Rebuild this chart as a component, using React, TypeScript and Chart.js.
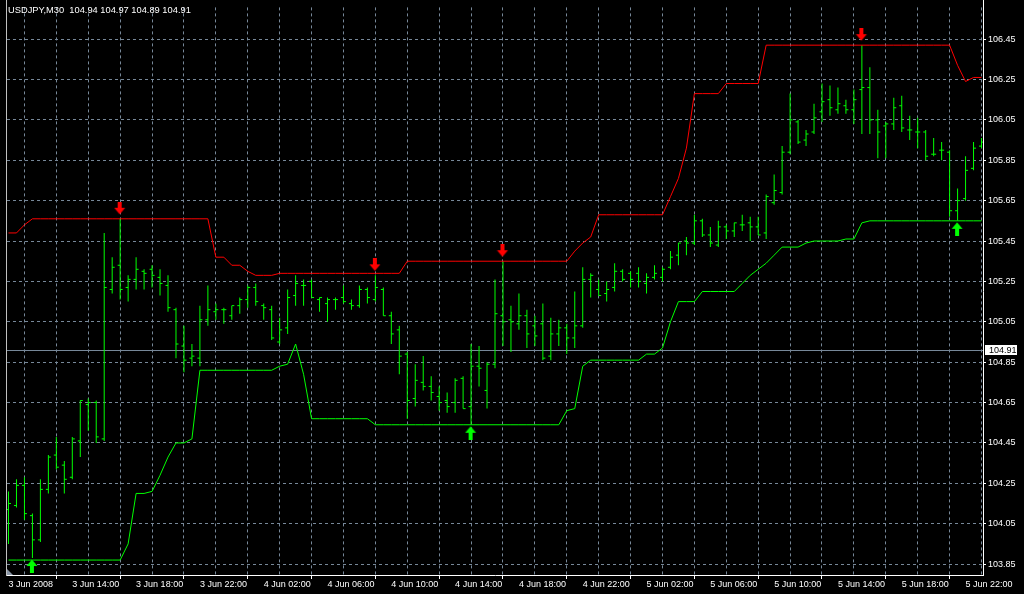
import React, { useEffect, useRef } from 'react';
import { Chart, registerables } from 'chart.js';

Chart.register(...registerables);

const symbolTitle = 'USDJPY,M30  104.94 104.97 104.89 104.91';
const bidPrice = 104.91;

const timeLabels = [
  '3 Jun 2008', '3 Jun 14:00', '3 Jun 18:00', '3 Jun 22:00',
  '4 Jun 02:00', '4 Jun 06:00', '4 Jun 10:00', '4 Jun 14:00',
  '4 Jun 18:00', '4 Jun 22:00', '5 Jun 02:00', '5 Jun 06:00',
  '5 Jun 10:00', '5 Jun 14:00', '5 Jun 18:00', '5 Jun 22:00',
];

const priceTicks = [103.85, 104.05, 104.25, 104.45, 104.65, 104.85, 105.05, 105.25, 105.45, 105.65, 105.85, 106.05, 106.25, 106.45];

const opens = [
  104.12, 104.14, 104.24, 104.09, 103.97, 104.22, 104.39, 104.34, 104.28, 104.46,
  104.64, 104.65, 104.47, 105.21, 105.33, 105.22, 105.26, 105.30, 105.31, 105.27,
  105.23, 105.11, 104.93, 104.87, 104.87, 105.06, 105.10, 105.11, 105.08, 105.13,
  105.16, 105.22, 105.13, 105.11, 104.95, 105.02, 105.18, 105.23, 105.25, 105.16,
  105.14, 105.16, 105.17, 105.14, 105.13, 105.21, 105.16, 105.21, 105.08, 105.01,
  104.89, 104.67, 104.75, 104.73, 104.68, 104.66, 104.65, 104.77, 104.63, 104.83,
  104.71, 104.84, 105.08, 105.06, 105.04, 105.08, 105.03, 105.04, 104.88, 104.99,
  105.02, 104.97, 105.03, 105.26, 105.21, 105.19, 105.22, 105.30, 105.29, 105.29,
  105.24, 105.27, 105.27, 105.32, 105.38, 105.45, 105.44, 105.55, 105.48, 105.43,
  105.52, 105.50, 105.53, 105.54, 105.52, 105.49, 105.64, 105.69, 105.89, 106.04,
  105.95, 105.99, 106.09, 106.15, 106.10, 106.12, 106.10, 106.20, 106.21, 106.05,
  106.02, 106.03, 106.12, 106.00, 105.99, 105.99, 105.88, 105.90, 105.89, 105.60,
  105.66, 105.81, 105.92,
];

const highs = [
  104.21, 104.27, 104.28, 104.10, 104.27, 104.39, 104.48, 104.36, 104.48, 104.66,
  104.67, 104.66, 105.49, 105.37, 105.56, 105.28, 105.37, 105.31, 105.33, 105.31,
  105.28, 105.12, 105.03, 104.94, 105.13, 105.23, 105.14, 105.12, 105.13, 105.17,
  105.23, 105.24, 105.14, 105.13, 105.07, 105.21, 105.28, 105.26, 105.26, 105.17,
  105.17, 105.17, 105.23, 105.16, 105.23, 105.22, 105.28, 105.22, 105.10, 105.03,
  104.90, 104.84, 104.88, 104.78, 104.73, 104.70, 104.77, 104.78, 104.94, 104.93,
  104.85, 105.26, 105.35, 105.13, 105.19, 105.11, 105.08, 105.14, 105.07, 105.06,
  105.04, 105.20, 105.32, 105.29, 105.26, 105.25, 105.34, 105.31, 105.30, 105.32,
  105.29, 105.33, 105.32, 105.40, 105.44, 105.47, 105.58, 105.56, 105.52, 105.55,
  105.53, 105.54, 105.58, 105.57, 105.57, 105.68, 105.78, 105.92, 106.18, 106.05,
  106.00, 106.13, 106.23, 106.22, 106.21, 106.15, 106.20, 106.42, 106.31, 106.10,
  106.04, 106.16, 106.17, 106.07, 106.06, 106.00, 105.96, 105.94, 105.90, 105.71,
  105.87, 105.94, 105.96,
];

const lows = [
  103.95, 104.13, 104.07, 103.88, 103.96, 104.20, 104.32, 104.20, 104.27, 104.38,
  104.51, 104.45, 104.46, 105.19, 105.16, 105.15, 105.21, 105.21, 105.22, 105.18,
  105.10, 104.87, 104.80, 104.83, 104.83, 105.03, 105.06, 105.04, 105.06, 105.09,
  105.12, 105.13, 105.06, 104.96, 104.94, 104.99, 105.13, 105.13, 105.17, 105.10,
  105.05, 105.11, 105.14, 105.11, 105.12, 105.14, 105.15, 105.08, 104.94, 104.79,
  104.57, 104.63, 104.71, 104.66, 104.61, 104.60, 104.60, 104.62, 104.54, 104.73,
  104.62, 104.82, 104.93, 104.90, 105.01, 104.92, 104.93, 104.86, 104.86, 104.93,
  104.89, 104.92, 105.02, 105.17, 105.18, 105.15, 105.20, 105.25, 105.22, 105.22,
  105.19, 105.26, 105.25, 105.31, 105.33, 105.38, 105.43, 105.47, 105.42, 105.42,
  105.46, 105.47, 105.50, 105.45, 105.48, 105.46, 105.63, 105.68, 105.88, 105.93,
  105.92, 105.98, 106.04, 106.07, 106.08, 106.08, 106.03, 105.98, 105.98, 105.86,
  105.86, 106.00, 105.99, 105.95, 105.91, 105.85, 105.87, 105.85, 105.57, 105.55,
  105.65, 105.80, 105.91,
];

const closes = [
  104.15, 104.24, 104.10, 103.97, 104.22, 104.38, 104.33, 104.27, 104.47, 104.66,
  104.65, 104.48, 105.22, 105.32, 105.21, 105.26, 105.31, 105.29, 105.28, 105.24,
  105.12, 104.94, 104.86, 104.88, 105.06, 105.11, 105.11, 105.11, 105.13, 105.16,
  105.22, 105.15, 105.12, 104.97, 105.01, 105.17, 105.24, 105.23, 105.17, 105.17,
  105.16, 105.16, 105.15, 105.13, 105.21, 105.17, 105.22, 105.08, 104.99, 104.88,
  104.66, 104.76, 104.73, 104.70, 104.65, 104.63, 104.76, 104.62, 104.83, 104.82,
  104.84, 105.09, 105.05, 105.05, 105.08, 104.99, 104.98, 104.87, 104.99, 105.02,
  104.97, 105.03, 105.26, 105.28, 105.18, 105.21, 105.30, 105.26, 105.26, 105.25,
  105.27, 105.29, 105.31, 105.37, 105.44, 105.44, 105.55, 105.48, 105.44, 105.52,
  105.50, 105.54, 105.53, 105.52, 105.48, 105.67, 105.70, 105.89, 106.05, 105.94,
  105.98, 106.06, 106.14, 106.11, 106.13, 106.10, 106.15, 106.21, 106.05, 105.99,
  106.03, 106.11, 106.01, 106.00, 105.99, 105.87, 105.88, 105.90, 105.60, 105.65,
  105.80, 105.91, 105.94,
];

const upperChannel = [
  105.49, 105.49, 105.53, 105.56, 105.56, 105.56, 105.56, 105.56, 105.56, 105.56,
  105.56, 105.56, 105.56, 105.56, 105.56, 105.56, 105.56, 105.56, 105.56, 105.56,
  105.56, 105.56, 105.56, 105.56, 105.56, 105.56, 105.37, 105.37, 105.33, 105.33,
  105.30, 105.28, 105.28, 105.28, 105.29, 105.29, 105.29, 105.29, 105.29, 105.29,
  105.29, 105.29, 105.29, 105.29, 105.29, 105.29, 105.29, 105.29, 105.29, 105.29,
  105.35, 105.35, 105.35, 105.35, 105.35, 105.35, 105.35, 105.35, 105.35, 105.35,
  105.35, 105.35, 105.35, 105.35, 105.35, 105.35, 105.35, 105.35, 105.35, 105.35,
  105.35, 105.40, 105.44, 105.47, 105.58, 105.58, 105.58, 105.58, 105.58, 105.58,
  105.58, 105.58, 105.58, 105.67, 105.76, 105.91, 106.18, 106.18, 106.18, 106.18,
  106.23, 106.23, 106.23, 106.23, 106.23, 106.42, 106.42, 106.42, 106.42, 106.42,
  106.42, 106.42, 106.42, 106.42, 106.42, 106.42, 106.42, 106.42, 106.42, 106.42,
  106.42, 106.42, 106.42, 106.42, 106.42, 106.42, 106.42, 106.42, 106.42, 106.32,
  106.24, 106.26, 106.26,
];

const lowerChannel = [
  103.87, 103.87, 103.87, 103.87, 103.87, 103.87, 103.87, 103.87, 103.87, 103.87,
  103.87, 103.87, 103.87, 103.87, 103.87, 103.95, 104.20, 104.20, 104.21, 104.29,
  104.38, 104.45, 104.45, 104.47, 104.81, 104.81, 104.81, 104.81, 104.81, 104.81,
  104.81, 104.81, 104.81, 104.81, 104.83, 104.84, 104.94, 104.79, 104.57, 104.57,
  104.57, 104.57, 104.57, 104.57, 104.57, 104.57, 104.54, 104.54, 104.54, 104.54,
  104.54, 104.54, 104.54, 104.54, 104.54, 104.54, 104.54, 104.54, 104.54, 104.54,
  104.54, 104.54, 104.54, 104.54, 104.54, 104.54, 104.54, 104.54, 104.54, 104.54,
  104.61, 104.62, 104.83, 104.86, 104.86, 104.86, 104.86, 104.86, 104.86, 104.86,
  104.89, 104.89, 104.92, 105.05, 105.15, 105.15, 105.15, 105.20, 105.20, 105.20,
  105.20, 105.20, 105.24, 105.28, 105.31, 105.34, 105.38, 105.42, 105.42, 105.42,
  105.44, 105.45, 105.45, 105.45, 105.45, 105.46, 105.46, 105.54, 105.55, 105.55,
  105.55, 105.55, 105.55, 105.55, 105.55, 105.55, 105.55, 105.55, 105.55, 105.55,
  105.55, 105.55, 105.55,
];

const sellArrowBars = [14, 46, 62, 107];
const buyArrowBars = [3, 58, 119];

const BAR_COLOR = '#00ff00';
const GRID_COLOR = '#778899';
const AXIS_FONT = { family: 'Liberation Sans', size: 9 };

function makeArrow(color: string, down: boolean): HTMLCanvasElement {
  const w = 13;
  const h = down ? 34 : 30;
  const c = document.createElement('canvas');
  c.width = w;
  c.height = h;
  const g = c.getContext('2d')!;
  g.fillStyle = color;
  if (down) {
    g.fillRect(4, 0, 4, 7);
    g.beginPath();
    g.moveTo(0.5, 6);
    g.lineTo(11.5, 6);
    g.lineTo(6, 12.5);
    g.closePath();
    g.fill();
  } else {
    g.beginPath();
    g.moveTo(6, 16.5);
    g.lineTo(11.5, 23);
    g.lineTo(0.5, 23);
    g.closePath();
    g.fill();
    g.fillRect(4, 22, 4, 8);
  }
  return c;
}

const mt4Plugin = {
  id: 'mt4Decor',
  beforeDraw(chart: any) {
    const { ctx, width, height } = chart;
    ctx.save();
    ctx.fillStyle = '#000000';
    ctx.fillRect(0, 0, width, height);
    ctx.restore();
  },
  beforeDatasetsDraw(chart: any) {
    const { ctx, chartArea, scales } = chart;
    const y = Math.round(scales.y.getPixelForValue(bidPrice)) + 0.5;
    ctx.save();
    ctx.strokeStyle = GRID_COLOR;
    ctx.lineWidth = 1;
    ctx.beginPath();
    ctx.moveTo(chartArea.left, y);
    ctx.lineTo(chartArea.right, y);
    ctx.stroke();
    ctx.restore();
  },
  afterDraw(chart: any) {
    const { ctx, chartArea, scales } = chart;
    ctx.save();
    ctx.lineWidth = 1;
    ctx.strokeStyle = '#c0c0c0';
    ctx.beginPath();
    ctx.moveTo(chartArea.left - 0.5, 0);
    ctx.lineTo(chartArea.left - 0.5, chartArea.bottom + 1);
    ctx.stroke();
    ctx.strokeStyle = '#ffffff';
    ctx.beginPath();
    ctx.moveTo(chartArea.right + 0.5, 0);
    ctx.lineTo(chartArea.right + 0.5, chartArea.top + 1);
    ctx.stroke();

    ctx.fillStyle = '#8a96a6';
    ctx.beginPath();
    ctx.moveTo(chartArea.left, chartArea.bottom - 6);
    ctx.lineTo(chartArea.left, chartArea.bottom);
    ctx.lineTo(chartArea.left + 6, chartArea.bottom);
    ctx.closePath();
    ctx.fill();

    ctx.fillStyle = '#ffffff';
    ctx.font = '9.3px "Liberation Sans"';
    ctx.textAlign = 'left';
    ctx.textBaseline = 'alphabetic';
    ctx.fillText(symbolTitle, 8, 13);

    const yb = Math.round(scales.y.getPixelForValue(bidPrice));
    ctx.fillStyle = '#ffffff';
    ctx.fillRect(chartArea.right + 2, yb - 5, 32, 10);
    ctx.fillStyle = '#000000';
    ctx.font = '9px "Liberation Sans"';
    ctx.textBaseline = 'middle';
    ctx.fillText(bidPrice.toFixed(2), chartArea.right + 6, yb + 0.5);
    ctx.restore();
  },
};

export default function App() {
  const canvasRef = useRef<HTMLCanvasElement | null>(null);

  useEffect(() => {
    const canvas = canvasRef.current;
    if (!canvas) return;
    const sellArrow = makeArrow('#ff0000', true);
    const buyArrow = makeArrow('#00ff00', false);
    const gridBars: number[] = [];
    for (let b = 0; b <= 120; b += 4) gridBars.push(b);

    const chart = new Chart(canvas, {
      type: 'line',
      data: {
        datasets: [
          {
            type: 'scatter',
            label: 'sell',
            data: sellArrowBars.map((i) => ({ x: i, y: highs[i] })),
            pointStyle: sellArrow as any,
            pointRadius: 6,
            order: 0,
          },
          {
            type: 'scatter',
            label: 'buy',
            data: buyArrowBars.map((i) => ({ x: i, y: lows[i] })),
            pointStyle: buyArrow as any,
            pointRadius: 6,
            order: 0,
          },
          {
            type: 'line',
            label: 'upper',
            data: upperChannel.map((v, i) => ({ x: i, y: v })),
            borderColor: '#ff0000',
            borderWidth: 1,
            pointRadius: 0,
            tension: 0,
            showLine: true,
            fill: false,
            order: 1,
          },
          {
            type: 'line',
            label: 'lower',
            data: lowerChannel.map((v, i) => ({ x: i, y: v })),
            borderColor: '#00ff00',
            borderWidth: 1,
            pointRadius: 0,
            tension: 0,
            showLine: true,
            fill: false,
            order: 1,
          },
          {
            type: 'scatter',
            label: 'open',
            data: opens.map((v, i) => ({ x: i, y: v })),
            pointStyle: 'dash',
            pointRotation: 180,
            pointRadius: 2.5,
            pointBorderColor: BAR_COLOR,
            pointBackgroundColor: BAR_COLOR,
            pointBorderWidth: 1,
            order: 3,
          },
          {
            type: 'scatter',
            label: 'close',
            data: closes.map((v, i) => ({ x: i, y: v })),
            pointStyle: 'dash',
            pointRotation: 0,
            pointRadius: 2.5,
            pointBorderColor: BAR_COLOR,
            pointBackgroundColor: BAR_COLOR,
            pointBorderWidth: 1,
            order: 3,
          },
          {
            type: 'bar',
            label: 'range',
            data: highs.map((h, i) => ({ x: i, y: [lows[i], h] })) as any,
            backgroundColor: BAR_COLOR,
            borderWidth: 0,
            barThickness: 1,
            maxBarThickness: 1,
            inflateAmount: 0,
            order: 4,
          } as any,
        ],
      },
      options: {
        responsive: false,
        animation: false,
        devicePixelRatio: 1,
        events: [],
        layout: { padding: { left: 4, top: 2, right: 0, bottom: 0 } },
        plugins: {
          legend: { display: false },
          tooltip: { enabled: false },
          title: { display: false },
        },
        scales: {
          x: {
            type: 'linear',
            min: -0.1875,
            max: 122.1875,
            offset: false,
            afterBuildTicks: (s: any) => {
              s.ticks = gridBars.map((v) => ({ value: v }));
            },
            afterFit: (s: any) => {
              s.height = 19;
            },
            ticks: {
              autoSkip: false,
              maxRotation: 0,
              minRotation: 0,
              align: 'start',
              padding: 0,
              color: '#ffffff',
              font: AXIS_FONT,
              callback: (v: any) => (Number(v) % 8 === 0 ? timeLabels[Number(v) / 8] : ''),
            },
            grid: {
              color: (c: any) => (c.tick && c.tick.value === 0 ? 'rgba(0,0,0,0)' : GRID_COLOR),
              lineWidth: 1,
              tickLength: 4,
              tickColor: (c: any) => (c.tick && c.tick.value % 8 === 0 ? '#ffffff' : 'rgba(0,0,0,0)'),
            },
            border: { display: true, color: '#ffffff', width: 1, dash: [3, 3] },
          },
          y: {
            type: 'linear',
            position: 'right',
            min: 103.796,
            max: 106.607,
            afterBuildTicks: (s: any) => {
              s.ticks = priceTicks.map((v) => ({ value: v }));
            },
            afterFit: (s: any) => {
              s.width = 41;
            },
            ticks: {
              autoSkip: false,
              padding: 2,
              color: '#ffffff',
              font: AXIS_FONT,
              callback: (v: any) => Number(v).toFixed(2),
            },
            grid: {
              color: GRID_COLOR,
              lineWidth: 1,
              tickLength: 3,
              tickColor: '#ffffff',
            },
            border: { display: true, color: '#ffffff', width: 1, dash: [3, 3] },
          },
        },
      } as any,
      plugins: [mt4Plugin],
    });

    return () => {
      chart.destroy();
    };
  }, []);

  return (
    <div style={{ position: 'fixed', left: 0, top: 0, width: 1024, height: 594, background: '#000' }}>
      <canvas ref={canvasRef} width={1024} height={594} style={{ display: 'block', width: 1024, height: 594 }} />
    </div>
  );
}
